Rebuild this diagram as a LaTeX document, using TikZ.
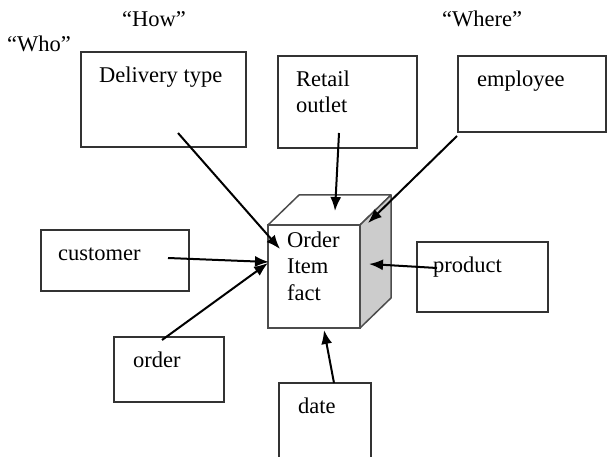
\documentclass[tikz,border=0pt]{standalone}
\usepackage{fontspec}
\setmainfont{Liberation Serif}
\usetikzlibrary{arrows.meta}
\begin{document}
\begin{tikzpicture}[x=1pt,y=-1pt,
  box/.style={draw=black!80,line width=1.6pt,rectangle,inner sep=0pt},
  lbl/.style={anchor=base west,inner sep=0pt,font=\fontsize{22.5}{26}\selectfont},
  con/.style={line width=2pt,-{Latex[length=14pt,width=11pt]}},
  cubeline/.style={draw=black!70,line width=1.5pt,line join=round}]
\useasboundingbox (0,0) rectangle (610,457);
\clip (0,0) rectangle (610,457);
% header labels
\node[lbl] (how) at (122,27) {“How”};
\node[lbl] (where) at (442,27) {“Where”};
\node[lbl] (who) at (7,52) {“Who”};
% boxes
\node[box,minimum width=165pt,minimum height=95pt] (dt) at (163.5,99.5) {};
\node[box,minimum width=139pt,minimum height=92pt] (ro) at (347.5,102) {};
\node[box,minimum width=148pt,minimum height=76pt] (emp) at (532,94) {};
\node[box,minimum width=148pt,minimum height=61pt] (cust) at (115,260.5) {};
\node[box,minimum width=110pt,minimum height=65pt] (ord) at (169,369.5) {};
\node[box,minimum width=131pt,minimum height=70pt] (prod) at (482.5,277) {};
\node[box,minimum width=92pt,minimum height=100pt] (date) at (325,433) {};
% box texts
\node[lbl] (tdt) at (99,83) {Delivery type};
\node[lbl] (tro1) at (296,87) {Retail};
\node[lbl] (tro2) at (296,113) {outlet};
\node[lbl] (temp) at (477,87) {employee};
\node[lbl] (tcust) at (58,260) {customer};
\node[lbl] (tord) at (133,367) {order};
\node[lbl] (tprod) at (433,272) {product};
\node[lbl] (tdate) at (298,413) {date};
% cube
\fill[white] (268,225) -- (299,195) -- (391,195) -- (360,225) -- cycle;
\draw[cubeline] (268,225) -- (299,195) -- (391,195) -- (360,225);
\filldraw[cubeline,fill=black!20] (360,225) -- (391,195) -- (391,298) -- (360,328) -- cycle;
\node[draw=black!70,line width=1.5pt,fill=white,rectangle,inner sep=0pt,minimum width=92pt,minimum height=103pt] (fact) at (314,276.5) {};
\node[lbl] (f1) at (287,247) {Order};
\node[lbl] (f2) at (287,273) {Item};
\node[lbl] (f3) at (287,300) {fact};
% connector coordinates
\coordinate (sdt) at (178,133); \coordinate (edt) at (280,249);
\coordinate (sro) at (339,133); \coordinate (ero) at (335,211);
\coordinate (semp) at (457,136); \coordinate (eemp) at (368,223);
\coordinate (scust) at (168,258); \coordinate (ecust) at (269,262);
\coordinate (sord) at (162,340); \coordinate (eord) at (268,263);
\coordinate (sprod) at (437,268); \coordinate (eprod) at (369,264);
\coordinate (sdate) at (334,383); \coordinate (edate) at (324,330);
\draw[con] (sdt) -- (edt);
\draw[con] (sro) -- (ero);
\draw[con] (semp) -- (eemp);
\draw[con] (scust) -- (ecust);
\draw[con] (sord) -- (eord);
\draw[con] (sprod) -- (eprod);
\draw[con] (sdate) -- (edate);
\end{tikzpicture}
\end{document}
